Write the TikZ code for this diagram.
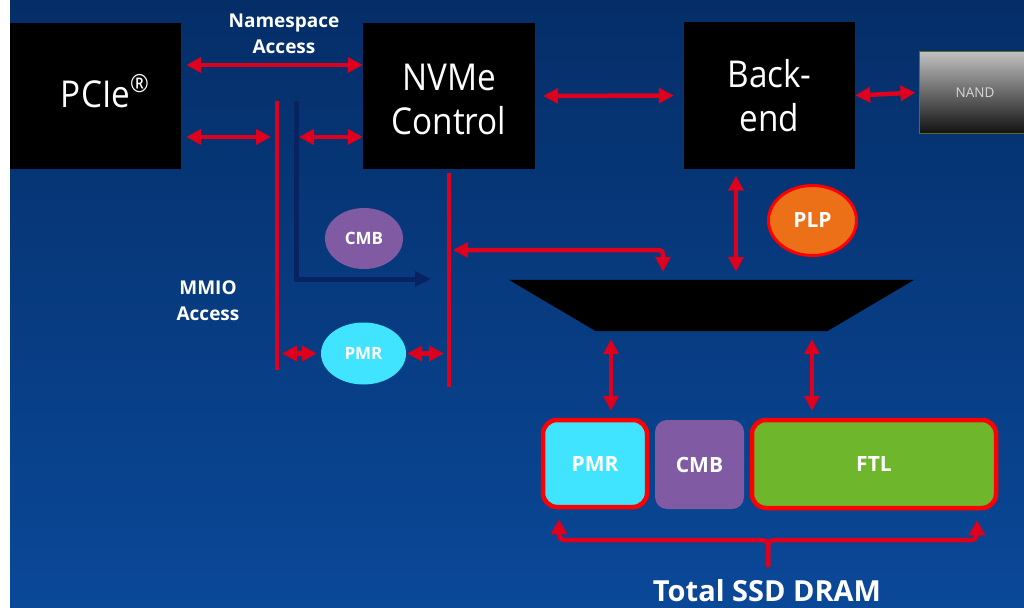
\documentclass[tikz,border=0pt]{standalone}
\usepackage{fontspec}
\setmainfont{Open Sans}
\newfontfamily\blockfont[FakeStretch=0.9]{Open Sans}
\usetikzlibrary{arrows.meta,shapes.geometric}
\definecolor{bgtop}{RGB}{5,46,104}
\definecolor{bgbot}{RGB}{10,72,152}
\definecolor{arrred}{RGB}{222,0,28}
\definecolor{brdred}{RGB}{255,0,0}
\definecolor{navyln}{RGB}{8,36,96}
\definecolor{cmbpurple}{RGB}{128,91,164}
\definecolor{pmrcyan}{RGB}{64,228,255}
\definecolor{plporange}{RGB}{236,112,24}
\definecolor{ftlgreen}{RGB}{110,182,44}
\definecolor{nandtop}{RGB}{192,192,192}
\definecolor{nandbot}{RGB}{18,18,18}
\definecolor{nandedge}{RGB}{90,110,40}
\definecolor{nandtxt}{RGB}{215,215,215}
\begin{document}
\begin{tikzpicture}[x=1pt, y=-1pt,
  blk/.style={fill=black, text=white, minimum width=171, minimum height=146, inner sep=0, align=center,
    font=\blockfont\fontsize{37}{44}\selectfont},
  lbl/.style={text=white, inner sep=0, align=center, font=\bfseries\fontsize{19}{26}\selectfont},
  ell/.style={ellipse, inner sep=0, text=white, font=\bfseries\fontsize{17}{17}\selectfont},
  ram/.style={rounded corners=14, inner sep=0, text=white, font=\bfseries\fontsize{21}{21}\selectfont},
  arr/.style={draw=arrred, line width=4.5pt, >={Triangle[length=15pt,width=15pt]}, <->},
  bus/.style={draw=arrred, line width=3.5pt},
  navyarr/.style={draw=navyln, line width=5pt, -{Triangle[length=16pt,width=15pt]}},
  brc/.style={draw=arrred, line width=4.5pt, rounded corners=5, -{Triangle[length=15pt,width=16pt]}}]
\useasboundingbox (0,0) rectangle (1024,607);
\fill[white] (0,0) rectangle (1024,607);
\shade[top color=bgtop, bottom color=bgbot] (10,0) rectangle (1024,607);

% blocks
\node[blk, text height=24] at (95.5,96) (pcie) {PCIe\rlap{\raisebox{15pt}{\fontsize{25}{25}\selectfont ®}}};
\node[blk, minimum width=172, text height=78] at (449,96) (nvme) {NVMe\\Control};
\node[blk] at (769.5,95.5) (backend) {Back-\\end};
\node[top color=nandtop, bottom color=nandbot, draw=nandedge, line width=1pt, minimum width=112,
  minimum height=81, inner sep=0, text=nandtxt, font=\fontsize{13.5}{13.5}\selectfont] at (975,92.5) (nand) {NAND};
\node[minimum width=405, minimum height=51, inner sep=0] at (711.5,305.5) (mux) {};
\fill (mux.north west) -- (mux.north east) -- ([xshift=-87]mux.south east) -- ([xshift=87]mux.south west) -- cycle;

% labels
\node[lbl] at (284,33.5) (nslbl) {Namespace\\Access};
\node[lbl] at (208,301) (mmiolbl) {MMIO\\Access};

% buses
\coordinate (busLtop) at (277,101);
\coordinate (busLbot) at (277,370);
\coordinate (busRtop) at (449,173);
\coordinate (busRbot) at (449,387);
\coordinate (navytop) at (296,101);
\coordinate (navyend) at (431,279);
\draw[bus] (busLtop) -- (busLbot);
\draw[bus] (busRtop) -- (busRbot);
\draw[navyarr] (navytop) -- (navytop |- navyend) -- (navyend);

\node[ell, fill=cmbpurple, minimum width=78, minimum height=61] at (364,238.5) (cmbell) {CMB};
\node[ell, fill=pmrcyan, minimum width=85, minimum height=62] at (363.5,353.5) (pmrell) {PMR};
\node[ell, fill=plporange, draw=brdred, line width=3pt, minimum width=88, minimum height=70,
  font=\bfseries\fontsize{21}{21}\selectfont] at (812.5,220.5) (plp) {PLP};

% DRAM
\node[ram, fill=pmrcyan, draw=brdred, line width=4.5pt, minimum width=104, minimum height=87] at (595,463.5) (pmrbox) {PMR};
\node[ram, fill=cmbpurple, rounded corners=12, minimum width=89, minimum height=89] at (699.5,464.5) (cmbbox) {CMB};
\node[ram, fill=ftlgreen, draw=brdred, line width=4.5pt, minimum width=244, minimum height=88] at (874,464) (ftlbox) {FTL};
\node[text=white, anchor=base, inner sep=0, font=\bfseries\fontsize{29}{29}\selectfont] at (767,601) (dram) {Total SSD DRAM};
\coordinate (bracetip) at (768,567);

% connectors
\draw[arr, shorten <=5pt] (pcie.east |- 0,65) -- (nvme.west |- 0,65);
\draw[arr, shorten <=5pt, shorten >=6pt] (pcie.east |- 0,137) -- (busLtop |- 0,137);
\draw[arr, shorten <=3pt] (navytop |- 0,137) -- (nvme.west |- 0,137);
\draw[arr, shorten <=8pt, shorten >=10pt] (nvme.east) -- (backend.west);
\draw[arr, shorten >=3pt] (backend.east) -- (nand.west);
\draw[arr, shorten <=7pt, shorten >=8pt] (736,0 |- backend.south) -- (736,0 |- mux.north);
\draw[arr, rounded corners=4pt, shorten <=4pt, shorten >=8pt] (busRtop |- 0,250) -- (663,250) -- (663,0 |- mux.north);
\draw[arr, shorten <=8pt, shorten >=7pt] (611,0 |- mux.south) -- (611,0 |- pmrbox.north);
\draw[arr, shorten <=8pt, shorten >=7pt] (812,0 |- mux.south) -- (812,0 |- ftlbox.north);
\draw[arr, shorten <=5pt, shorten >=4pt] (busLbot |- pmrell.west) -- (pmrell.west);
\draw[arr, shorten <=1pt, shorten >=5pt] (pmrell.east) -- (busRbot |- pmrell.east);
\draw[brc, shorten >=10pt] (bracetip) -- (bracetip |- 0,540) -- (559,540) -- (559,0 |- pmrbox.south);
\draw[brc, shorten >=10pt] (bracetip) -- (bracetip |- 0,540) -- (977,540) -- (977,0 |- ftlbox.south);
\end{tikzpicture}
\end{document}
